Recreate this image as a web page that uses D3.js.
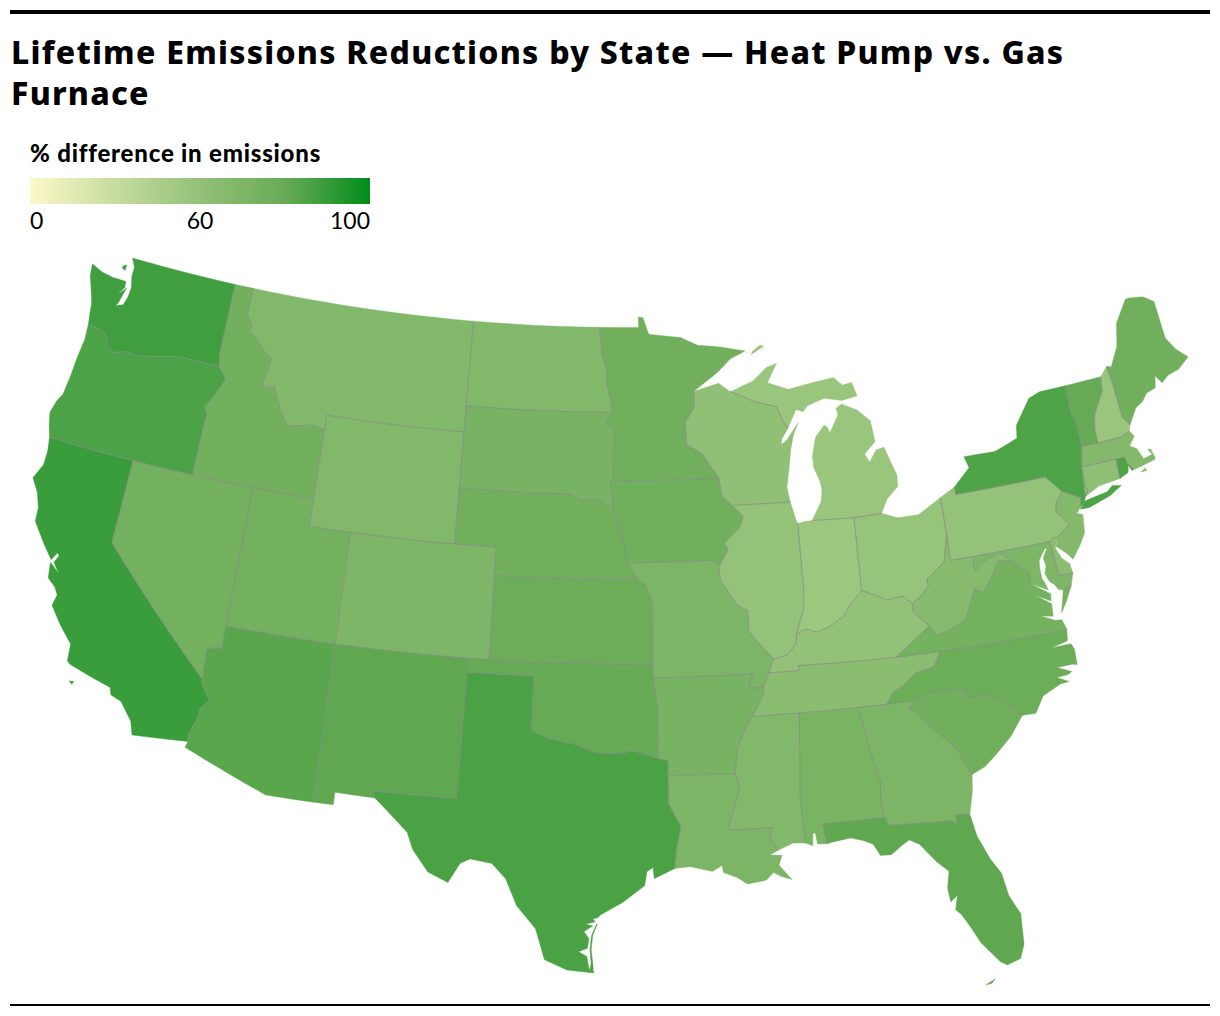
<!DOCTYPE html>
<html><head><meta charset="utf-8">
<script src="https://cdn.jsdelivr.net/npm/d3@7"></script>
<style>
html,body{margin:0;background:#fff}
svg{display:block}
</style></head><body>
<svg id="c" width="1220" height="1016"></svg>
<script>
const titleLines = ["Lifetime Emissions Reductions by State — Heat Pump vs. Gas","Furnace"];
const legendTitle = "% difference in emissions";
const legendTicks = [0,60,100];
const colorDomain = [0,30,60,80,100];
const colorRange = ["#fdf8c8","#c6dd9e","#92c177","#69ab56","#008c1a"];

const stateNames = ["WA","OR","CA","NV","ID","MT","WY","UT","CO","AZ","NM","ND","SD","NE","KS","OK","TX","MN","IA","MO","AR","LA","MS","AL","GA","FL","SC","NC","TN","KY","IL","IN","OH","MI","WI","PA","NY","VT","NH","ME","MA","CT","RI","NJ","DE","MD","VA","WV"];
const stateValues = [88,85.5,89.3,75,75.6,68,68,75,70,83,82,68,73,76,78,80.5,86,76,76.5,71,73,71,68,72,71,82,76,78.5,64,60,59,54,57,56,61,59,85,80.5,56,76,67,62,85,67,64,70,74,66];

// Geographic border lines: degrees west, degrees north
const borders = {
cWA:[124,46.27,124.1,46.7,124.15,47,124.4,47.5,124.65,47.95,124.73,48.38,124.1,48.2,123.5,48.13,122.95,48.12,122.75,48.12,122.72,47.9,122.98,47.6,122.7,47.82,122.62,47.9,122.82,47.3,122.93,47.18,122.55,47.28,122.42,47.6,122.38,47.95,122.52,48.35,122.52,48.7,122.76,49],
nWA:[122.76,49,117.04,49],
WA_OR:[124,46.27,123.4,46.2,123.15,46.15,122.85,45.95,122.75,45.65,122.3,45.55,121.7,45.7,121.2,45.65,120.65,45.73,119.6,45.92,119,46,116.92,46],
WA_ID:[116.92,46,117.04,46.42,117.04,49],
cOR:[124,46.27,123.95,45.7,124.05,45,124.1,44.3,124.2,43.6,124.4,43.3,124.55,42.85,124.4,42.4,124.21,42],
OR_CA:[124.21,42,120,42],
OR_NV:[120,42,117.03,42],
OR_ID:[117.03,42,117.03,43.8,117,44.25,117.2,44.45,116.9,44.85,116.5,45.5,116.46,45.6,116.92,46],
ID_NV:[117.03,42,114.04,42],
ID_UT:[114.04,42,111.05,42],
ID_WY:[111.05,42,111.05,44.47],
ID_MT:[111.05,44.47,111.5,44.55,111.85,44.55,112.8,44.4,113,44.45,113.45,44.95,113.95,45.7,114.5,45.55,114.55,45.75,114.35,46.65,114.9,46.92,115.3,47.25,115.75,47.45,115.7,47.7,116.05,48,116.05,49],
nID:[117.04,49,116.05,49],
nMT:[116.05,49,104.05,49],
MT_ND:[104.05,49,104.05,45.94],
MT_SD:[104.05,45.94,104.05,45],
MT_WY:[104.05,45,111.05,45,111.05,44.47],
WY_SD:[104.05,45,104.05,43],
WY_NE:[104.05,43,104.05,41],
WY_CO:[104.05,41,109.05,41],
WY_UT:[109.05,41,111.05,41,111.05,42],
nND:[104.05,49,97.23,49],
ND_SD:[104.05,45.94,96.56,45.94],
ND_MN:[97.23,49,97.1,48,96.85,47.5,96.8,46.9,96.6,46.3,96.56,45.94],
SD_NE:[104.05,43,98.5,43,98,42.77,97.4,42.87,96.7,42.6,96.45,42.49],
SD_MN:[96.56,45.94,96.85,45.6,96.45,45.3,96.45,43.5],
SD_IA:[96.45,43.5,96.6,43.5,96.45,42.49],
NE_CO:[104.05,41,102.05,41,102.05,40],
NE_KS:[102.05,40,95.3,40],
NE_IA:[96.45,42.49,96.1,41.7,95.9,41.2,95.85,40.7,95.75,40.58],
NE_MO:[95.75,40.58,95.3,40],
KS_CO:[102.05,40,102.05,37],
KS_OK:[102.05,37,94.62,37],
KS_MO:[95.3,40,94.9,39.8,94.6,39.1,94.62,37],
CO_UT:[109.05,41,109.05,37],
CO_NM:[109.05,37,103,37],
CO_OK:[103,37,102.05,37],
NM_AZ:[109.05,37,109.05,31.33],
NM_OK:[103,37,103,36.5],
NM_TX:[103,36.5,103.05,32,106.62,32,106.5,31.75],
sNM:[106.5,31.75,108.2,31.78,108.2,31.33,109.05,31.33],
UT_AZ:[109.05,37,114.05,37],
UT_NV:[114.05,37,114.04,42],
AZ_NV:[114.05,37,114.05,36.2,114.7,36.1,114.65,35],
AZ_CA:[114.65,35,114.6,34.8,114.15,34.3,114.45,34,114.55,33.5,114.75,33,114.72,32.72],
sAZ:[114.72,32.72,114.8,32.5,111.07,31.33,109.05,31.33],
NV_CA:[120,42,120,39,114.65,35],
cCA:[124.21,42,124.1,41.5,124.1,41,124.4,40.45,124,40,123.75,39.5,123.7,39,123,38.3,122.5,37.85,122.3,38.15,122.2,38.05,122.35,37.8,122,37.45,122.4,37.7,122.5,37.75,122.4,37.2,122,36.95,121.8,36.7,121.9,36.3,121.3,35.7,120.65,35.15,120.6,34.55,120.45,34.45,119.2,34.15,118.5,34,118.4,33.75,117.9,33.6,117.3,33,117.12,32.53],
sCA:[117.12,32.53,114.72,32.72],
OK_TX:[103,36.5,100,36.5,100,34.56,99.2,34.3,98.1,34.13,97.2,33.85,96.5,33.8,95.5,33.9,94.48,33.64],
OK_AR:[94.48,33.64,94.43,35.4,94.62,36.5],
OK_MO:[94.62,37,94.62,36.5],
TX_AR:[94.48,33.64,94.04,33.55,94.04,33.02],
TX_LA:[94.04,33.02,94.04,32,93.55,31.2,93.75,30.4,93.85,29.7],
cTX:[93.85,29.7,94.7,29.35,94.75,29.75,95,29.6,95.1,29.1,96,28.5,96.9,28.05,97,27.95,97.2,27.9,97.1,27.8,97.5,27.72,97.2,27.65,97.55,27.45,97.35,27.2,97.4,26.85,97.75,26.72,97.42,26.55,97.35,26.2,97.3,26.05,97.25,26.3,97.3,26.8,97.25,27.3,97.05,27.72,97.02,27.72,97.2,27.3,97.25,26.8,97.18,26.3,97.15,25.96],
sTX:[97.15,25.96,98.2,26.05,99.1,26.4,99.5,27.5,100.3,28.3,100.8,29.25,101.4,29.77,102.3,29.88,102.7,29.7,103.15,28.98,104,29.3,104.7,30.05,105,30.65,106,31.4,106.5,31.75],
AR_MO:[94.62,36.5,90.15,36.5,90.37,36,89.7,36],
AR_TN:[89.7,36,89.7,35.8,90.1,35.2,90.3,35],
AR_MS:[90.3,35,90.6,34.6,91,33.9,91.17,33],
AR_LA:[91.17,33,94.04,33.02],
LA_MS:[91.17,33,91,32.5,91.6,31,89.73,31,89.85,30.65,89.55,30.18],
cLA:[89.55,30.18,89.9,30.03,89.4,30,89.55,29.65,89.05,29.1,89.5,29.25,89.8,29.4,90.1,29.15,90.4,29.1,90.9,29.05,91.3,29.3,91.85,29.5,91.9,29.75,92.3,29.55,93.2,29.75,93.85,29.7],
cMS:[89.55,30.18,88.9,30.4,88.4,30.37],
MS_AL:[88.4,30.37,88.47,31.9,88.2,35],
MS_TN:[88.2,35,90.3,35],
cAL:[88.4,30.37,88.1,30.25,88.05,30.7,87.95,30.7,87.9,30.3,87.52,30.28],
AL_FL:[87.52,30.28,87.6,31,85,31],
AL_GA:[85,31,85.1,31.55,85,32.3,85.18,32.87,85.6,35],
AL_TN:[85.6,35,88.2,35],
FL_GA:[85,31,84.86,30.7,82.2,30.57,82.05,30.37,82.05,30.75,81.45,30.71],
cFL:[81.45,30.71,81.3,29.9,80.9,29,80.55,28.45,80.4,27.6,80.05,26.9,80.12,25.8,80.35,25.3,80.9,25.15,81.15,25.3,81.8,26.1,82.1,26.7,82.4,27.2,82.6,27.4,82.45,27.9,82.75,27.7,82.8,28.2,82.65,28.8,83.1,29.2,83.7,29.9,84.1,30.1,84.4,29.95,84.9,29.65,85.35,29.67,85.6,30.1,86,30.27,86.5,30.4,87.2,30.33,87.52,30.28],
GA_SC:[81.1,32.1,81.4,32.6,81.5,33,82,33.5,82.6,34,83.1,34.6,83.35,34.7,83.1,35],
GA_NC:[83.1,35,84.32,34.99],
GA_TN:[84.32,34.99,85.6,35],
cGA:[81.1,32.1,81.2,31.5,81.45,30.71],
cSC:[81.1,32.1,80.5,32.3,79.9,32.7,79.2,33.2,78.55,33.86],
SC_NC:[78.55,33.86,79.67,34.8,80.8,34.82,80.8,35.1,81.05,35.15,82.3,35.2,83.1,35],
cNC:[78.55,33.86,77.95,33.85,77.5,34.4,76.65,34.7,76.25,34.72,76.75,34.95,76.2,34.98,76.05,35.05,76.65,35.3,75.95,35.3,75.75,35.25,75.72,35.8,75.82,36.02,76.7,36.02,75.95,36.15,75.87,36.55],
NC_VA:[75.87,36.55,81.68,36.59],
NC_TN:[81.68,36.59,82,36.1,82.9,35.95,83.5,35.57,84,35.4,84.32,34.99],
TN_KY:[89.42,36.5,88.05,36.5,88.07,36.68,83.68,36.6],
TN_VA:[83.68,36.6,81.68,36.59],
TN_MO:[89.7,36,89.42,36.5],
KY_MO:[89.42,36.5,89.15,36.98],
KY_IL:[89.15,36.98,88.5,37.1,88.1,37.45,88.03,37.8],
KY_IN:[88.03,37.8,87.6,37.95,87.1,37.8,86.5,37.95,85.8,38.27,85.4,38.7,84.85,39.1],
KY_OH:[84.85,39.1,84.3,38.9,83.7,38.65,83,38.73,82.6,38.42],
KY_WV:[82.6,38.42,82.6,38.1,81.97,37.54],
KY_VA:[81.97,37.54,83.68,36.6],
MO_IL:[91.43,40.38,91.4,39.9,90.65,38.95,90.2,38.75,90.2,38,89.5,37.3,89.15,36.98],
MO_IA:[91.43,40.38,91.73,40.6,95.75,40.58],
IA_IL:[91.43,40.38,90.95,40.95,91.1,41.2,90.3,41.75,90.15,42.1,90.64,42.51],
IA_WI:[90.64,42.51,91.15,42.9,91.22,43.5],
IA_MN:[91.22,43.5,96.45,43.5],
MN_WI:[91.22,43.5,92,44.4,92.75,44.75,92.8,45.55,92.3,46.1,92.29,46.66],
cMN:[92.29,46.66,92.1,46.75,91,47.3,90.3,47.75,89.5,48,90.8,48.2,92,48.3,92.9,48.6,94.6,48.75,94.9,49.35,95.15,49.38,95.15,49,97.23,49],
cWIn:[92.29,46.66,92,46.7,91,46.9,90.4,46.57],
WI_MI:[90.4,46.57,89.1,46.13,88.1,45.92,87.8,45.35,87.6,45.1],
cWIe:[87.6,45.1,87.95,44.75,88,44.55,87.7,44.7,87.05,45.28,87.35,44.85,87.55,44.35,87.7,43.75,87.9,43,87.8,42.49],
WI_IL:[87.8,42.49,90.64,42.51],
cIL:[87.8,42.49,87.6,41.85,87.53,41.7],
IL_IN:[87.53,41.7,87.53,39.35,87.6,38.7,88.03,37.8],
cIN:[87.53,41.7,87.2,41.75,86.82,41.76],
IN_MI:[86.82,41.76,84.8,41.7],
IN_OH:[84.8,41.7,84.85,39.1],
OH_MI:[84.8,41.7,83.45,41.73],
cOH:[83.45,41.73,82.7,41.5,81.7,41.5,80.52,41.98],
OH_PA:[80.52,41.98,80.52,40.64],
OH_WV:[80.52,40.64,80.85,39.7,81.75,39.2,81.75,38.93,82.2,38.6,82.6,38.42],
cMIL:[83.45,41.73,83.1,42.2,82.5,42.6,82.45,43,82.9,44.05,83.3,44,83.7,43.6,83.9,43.9,83.3,44.3,83.4,45.05,84,45.5,84.75,45.78,85.05,45.65,85,45.4,85.5,44.8,85.6,45,85.75,45.1,86.25,44.7,86.5,44.05,86.5,43.65,86.25,43.1,86.2,42.8,86.3,42.4,86.82,41.76],
cMIU:[87.6,45.1,87.1,45.75,86.75,45.65,86.5,45.85,85.6,46.05,84.7,45.9,83.9,46,84.1,46.5,84.6,46.45,85,46.75,86.2,46.65,87.4,46.5,88.45,46.8,87.9,47.47,88.45,47.35,89.2,46.9,90.4,46.57],
cPA:[79.76,42.27,80.52,41.98],
PA_WV:[80.52,40.64,80.52,39.72,79.48,39.72],
PA_MD:[79.48,39.72,75.79,39.72],
PA_DE:[75.79,39.72,75.6,39.84,75.42,39.8],
PA_NJ:[75.42,39.8,75.13,39.95,74.73,40.15,74.95,40.45,75.2,40.7,75.1,41,74.7,41.36],
PA_NY:[74.7,41.36,75.35,42,79.76,42,79.76,42.27],
NY_NJ:[74.7,41.36,73.9,40.99,74.03,40.65],
cNY:[74.03,40.65,73.8,40.8,73.65,41],
NY_CT:[73.5,42.05,73.55,41.3,73.48,41.2,73.65,41],
NY_MA:[73.27,42.75,73.5,42.05],
NY_VT:[73.35,45,73.4,44,73.25,43.6,73.27,42.75],
cNYn:[79.76,42.27,78.9,42.85,79.05,43.27,77.5,43.25,76.3,43.55,76.2,44,75.3,44.85,74.7,45,73.35,45],
nVT:[73.35,45,71.5,45],
NH_VT:[72.46,42.73,72.45,43.2,72.3,43.7,72.05,44,71.6,44.5,71.5,45],
MA_VT:[72.46,42.73,73.27,42.75],
nNH:[71.5,45,71.08,45.3],
NH_ME:[71.08,45.3,71,44.7,70.98,43.4,70.7,43.08],
cNH:[70.7,43.08,70.82,42.87],
MA_NH:[70.82,42.87,71.25,42.74,72.46,42.73],
cME:[70.7,43.08,70.2,43.6,69.8,43.75,69.5,44,69,44.1,68.85,44.5,68.6,44.2,68.2,44.4,67.6,44.5,66.97,44.82,67.45,45.2,67.8,45.7,67.8,47.07,68.3,47.35,69,47.45,69.2,47.45,70,46.7,70.3,45.9,70.85,45.25,71.08,45.3],
cMA:[71.12,41.5,70.65,41.55,70,41.65,69.95,41.7,70.05,42.05,70.2,42.07,70.05,41.85,70.5,41.78,70.7,42.2,71,42.35,70.65,42.65,70.82,42.87],
RI_MA:[71.8,42.02,71.38,42.02,71.33,41.78,71.12,41.5],
CT_MA:[71.8,42.02,73.5,42.05],
cCT:[73.65,41,72.9,41.25,71.85,41.32],
CT_RI:[71.85,41.32,71.8,42.02],
cRI:[71.12,41.5,71.2,41.48,71.3,41.7,71.4,41.45,71.85,41.32],
cNJ:[74.03,40.65,74.25,40.48,73.98,40.4,74.1,39.75,74.4,39.4,74.9,38.93,75.15,39.2,75.55,39.5,75.42,39.8],
DE_MD:[75.79,39.72,75.7,38.46],
cDE:[75.42,39.8,75.6,39.45,75.4,39.05,75.1,38.8,75.05,38.46],
sDE:[75.05,38.46,75.7,38.46],
MD_VA:[77.05,38.38,77.05,38.8,77.5,39.1,77.72,39.32],
MD_WV:[77.72,39.32,78.2,39.68,78.4,39.62,78.8,39.55,79.05,39.45,79.49,39.2,79.48,39.72],
cMD:[77.05,38.38,76.32,38.05,76.4,38.3,76.5,38.5,76.5,38.9,76.45,39.15,76.1,39.5,76,39.5,76.25,39.2,76.2,38.9,76.32,38.65,76.2,38.35,76,38.2,75.85,37.98,75.65,37.95],
MD_VAe:[75.25,38.03,75.65,37.95],
cMDo:[75.25,38.03,75.05,38.46],
cVAe:[75.65,37.95,75.95,37.15,75.6,37.55,75.25,38.03],
VA_WV:[77.72,39.32,78.35,39.4,78.87,38.77,79.3,38.42,79.65,38.58,80.3,37.55,81.2,37.25,81.68,37.2,81.97,37.54],
cVA:[75.87,36.55,76,36.92,76.3,36.95,76.9,37.2,76.35,37.1,76.3,37.55,76.95,37.95,76.3,37.65,76.25,37.9,77.05,38.38]
};
const rings = {
WA:[["cWA","nWA","-WA_ID","-WA_OR"],[123.15,48.55,122.95,48.5,122.95,48.7,123.1,48.65]],
OR:[["cOR","OR_CA","OR_NV","OR_ID","-WA_OR"]],
CA:[["cCA","sCA","-AZ_CA","-NV_CA","-OR_CA"],[120.3,33.87,120.1,33.9,120.15,33.78]],
NV:[["NV_CA","-AZ_NV","UT_NV","-ID_NV","-OR_NV"]],
ID:[["OR_ID","WA_ID","nID","-ID_MT","-ID_WY","-ID_UT","-ID_NV"]],
MT:[["nMT","MT_ND","MT_SD","MT_WY","ID_MT"]],
WY:[["WY_SD","WY_NE","WY_CO","WY_UT","ID_WY","-MT_WY"]],
UT:[["-ID_UT","-UT_NV","-UT_AZ","-CO_UT","WY_UT"]],
CO:[["WY_CO","CO_UT","CO_NM","CO_OK","-KS_CO","-NE_CO"]],
AZ:[["AZ_NV","AZ_CA","sAZ","-NM_AZ","UT_AZ"]],
NM:[["NM_AZ","-sNM","-NM_TX","-NM_OK","-CO_NM"]],
ND:[["nND","ND_MN","-ND_SD","-MT_ND"]],
SD:[["ND_SD","SD_MN","SD_IA","-SD_NE","-WY_SD","-MT_SD"]],
NE:[["SD_NE","NE_IA","NE_MO","-NE_KS","-NE_CO","-WY_NE"]],
KS:[["NE_KS","KS_MO","-KS_OK","-KS_CO"]],
OK:[["KS_OK","OK_MO","-OK_AR","-OK_TX","-NM_OK","CO_OK"]],
TX:[["OK_TX","TX_AR","TX_LA","cTX","sTX","-NM_TX"]],
MN:[["cMN","ND_MN","SD_MN","-IA_MN","MN_WI"]],
IA:[["IA_MN","SD_IA","NE_IA","-MO_IA","IA_IL","IA_WI"]],
MO:[["MO_IA","NE_MO","KS_MO","OK_MO","AR_MO","TN_MO","KY_MO","-MO_IL"]],
AR:[["OK_AR","AR_MO","AR_TN","AR_MS","AR_LA","-TX_AR"]],
LA:[["AR_LA","TX_LA","-cLA","-LA_MS"]],
MS:[["AR_MS","LA_MS","cMS","MS_AL","MS_TN"]],
AL:[["-MS_AL","cAL","AL_FL","AL_GA","AL_TN"]],
GA:[["-AL_GA","FL_GA","-cGA","GA_SC","GA_NC","GA_TN"]],
FL:[["cFL","AL_FL","FL_GA"],[81.85,24.55,81.45,24.72,81.6,24.58]],
SC:[["cSC","SC_NC","-GA_SC"]],
NC:[["cNC","NC_VA","NC_TN","-GA_NC","-SC_NC"]],
TN:[["-MS_TN","-AL_TN","-GA_TN","-NC_TN","-TN_VA","-TN_KY","-TN_MO","AR_TN"]],
KY:[["TN_KY","-KY_VA","-KY_WV","-KY_OH","-KY_IN","-KY_IL","-KY_MO"]],
IL:[["MO_IL","KY_IL","-IL_IN","-cIL","WI_IL","-IA_IL"]],
IN:[["IL_IN","KY_IN","-IN_OH","-IN_MI","-cIN"]],
OH:[["IN_OH","KY_OH","-OH_WV","-OH_PA","-cOH","-OH_MI"]],
MI:[["IN_MI","OH_MI","cMIL"],["WI_MI","cMIU"],[89.2,47.85,88.5,48.12,88.7,48.17,89.1,47.97]],
WI:[["-MN_WI","-IA_WI","-WI_IL","-cWIe","-WI_MI","-cWIn"]],
PA:[["cPA","OH_PA","PA_WV","PA_MD","PA_DE","PA_NJ","PA_NY"]],
NY:[["-PA_NY","NY_NJ","cNY","-NY_CT","-NY_MA","-NY_VT","-cNYn"],[74.03,40.6,73.75,40.85,72.6,40.98,72.3,41.15,71.87,41.07,72.5,40.82,73.6,40.58]],
VT:[["nVT","-NH_VT","MA_VT","-NY_VT"]],
NH:[["NH_VT","nNH","NH_ME","cNH","MA_NH"]],
ME:[["cME","-NH_ME"]],
MA:[["-MA_NH","-cMA","-RI_MA","CT_MA","-NY_MA","-MA_VT"],[70.8,41.35,70.5,41.35,70.55,41.45]],
CT:[["CT_MA","-NY_CT","cCT","CT_RI"]],
RI:[["RI_MA","cRI","CT_RI"]],
NJ:[["PA_NJ","NY_NJ","cNJ"]],
DE:[["PA_DE","cDE","sDE","-DE_MD"]],
MD:[["-PA_MD","-MD_WV","-MD_VA","cMD","-MD_VAe","cMDo","sDE","-DE_MD"]],
VA:[["MD_VA","VA_WV","KY_VA","TN_VA","-NC_VA","cVA"],["MD_VAe","cVAe"]],
WV:[["OH_WV","KY_WV","-VA_WV","MD_WV","-PA_WV"]]
};

function toPts(flat){const p=[];for(let i=0;i<flat.length;i+=2)p.push([-flat[i],flat[i+1]]);return p;}
function densify(pts){const out=[];for(let i=0;i<pts.length-1;i++){const a=pts[i],b=pts[i+1],n=Math.max(1,Math.ceil(Math.abs(a[0]-b[0])));for(let k=0;k<n;k++)out.push([a[0]+(b[0]-a[0])*k/n,a[1]+(b[1]-a[1])*k/n]);}out.push(pts[pts.length-1]);return out;}
const useCount={};
function ringOf(spec){
  let pts;
  if(typeof spec[0]==="number"){pts=toPts(spec);pts.push(pts[0]);}
  else{pts=[];spec.forEach(s=>{const rev=s[0]==="-",k=rev?s.slice(1):s;useCount[k]=(useCount[k]||0)+1;let a=toPts(borders[k]);if(rev)a=a.reverse();pts=pts.concat(a);});pts.push(pts[0]);}
  let r=densify(pts);
  if(d3.geoArea({type:"Polygon",coordinates:[r]})>2*Math.PI)r=r.reverse();
  return [r];
}
const features=stateNames.map((n,i)=>({type:"Feature",properties:{name:n,value:stateValues[i]},geometry:{type:"MultiPolygon",coordinates:rings[n].map(ringOf)}}));
const fc={type:"FeatureCollection",features};
const inner={type:"MultiLineString",coordinates:Object.keys(useCount).filter(k=>useCount[k]>1).map(k=>densify(toPts(borders[k])))};

const svg=d3.select("#c");
const color=d3.scaleLinear().domain(colorDomain).range(colorRange);
const projection=d3.geoConicEqualArea().parallels([29.5,45.5]).rotate([96,0]).fitExtent([[32,258],[1189,985]],fc);
const path=d3.geoPath(projection);

svg.append("rect").attr("x",10).attr("y",10).attr("width",1200).attr("height",4).attr("fill","#000");
svg.append("rect").attr("x",10).attr("y",1004).attr("width",1200).attr("height",2).attr("fill","#000");
svg.selectAll("text.t").data(titleLines).join("text").attr("class","t").attr("x",11).attr("y",(d,i)=>64+i*41)
  .attr("font-family","'Noto Sans'").attr("font-weight",800).attr("font-size",32).attr("letter-spacing",1.25).attr("fill","#000").text(d=>d);

const pos=d3.scaleLinear().domain([0,60,100]).range([0,170,340]);
const defs=svg.append("defs");
const g=defs.append("linearGradient").attr("id","lg");
colorDomain.forEach((v,i)=>g.append("stop").attr("offset",pos(v)/340).attr("stop-color",colorRange[i]));
svg.append("rect").attr("x",30).attr("y",178).attr("width",340).attr("height",26).attr("fill","url(#lg)");
svg.append("text").attr("x",30).attr("y",162).attr("font-family","Lato").attr("font-weight",900).attr("font-size",24).attr("letter-spacing",0.8).attr("fill","#000").text(legendTitle);
svg.selectAll("text.k").data(legendTicks).join("text").attr("class","k").attr("y",229)
  .attr("x",(d,i)=>[30,200,370][i]).attr("text-anchor",(d,i)=>["start","middle","end"][i])
  .attr("font-family","Lato").attr("font-size",23).attr("fill","#000").text(d=>d);

svg.append("g").selectAll("path").data(features).join("path").attr("d",path).attr("fill",d=>color(d.properties.value)).attr("stroke",d=>color(d.properties.value)).attr("stroke-width",0.4);
svg.append("path").datum(inner).attr("d",path).attr("fill","none").attr("stroke","#888").attr("stroke-opacity",0.9).attr("stroke-width",0.9);
</script>
</body></html>
